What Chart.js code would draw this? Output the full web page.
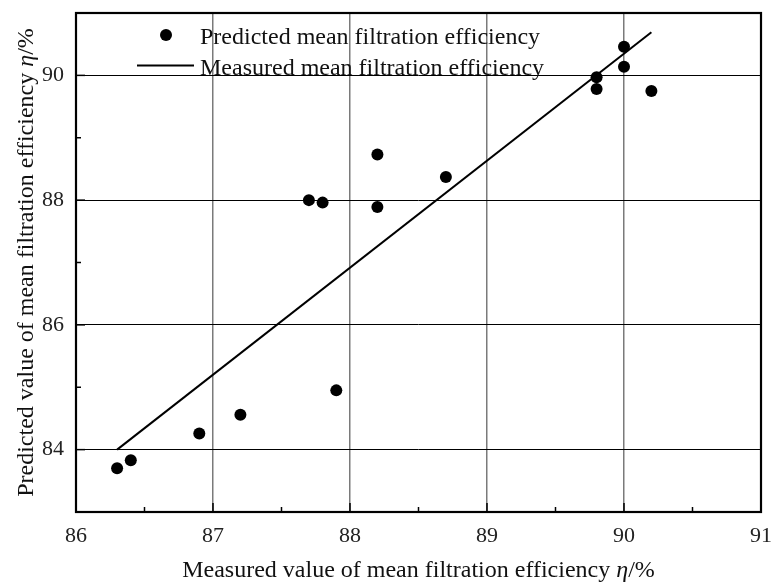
<!DOCTYPE html>
<html>
<head>
<meta charset="utf-8">
<script src="https://cdn.jsdelivr.net/npm/chart.js@4"></script>
<style>
  body { margin: 0; background: #fff; }
  canvas { display: block; }
</style>
</head>
<body>
<canvas id="chart" width="772" height="584"></canvas>
<script>
// measured vs predicted mean filtration efficiency (%)
const measured = [86.3, 86.4, 86.9, 87.2, 87.7, 87.8, 87.9, 88.2, 88.2, 88.7, 89.8, 89.8, 90.0, 90.0, 90.2];
const predicted = [83.70, 83.83, 84.26, 84.56, 88.00, 87.96, 84.95, 88.73, 87.89, 88.37, 89.97, 89.78, 90.46, 90.14, 89.75];
// fitted line end points
const fitX = [86.3, 90.2];
const fitY = [84.0, 90.69];

const xTicks = [86, 87, 88, 89, 90, 91];
const yTicks = [84, 86, 88, 90];

const serif = "'Liberation Serif', 'Times New Roman', serif";

const points = measured.map((v, i) => ({ x: v, y: predicted[i] }));
const fitLine = fitX.map((v, i) => ({ x: v, y: fitY[i] }));

// frame, inward ticks, legend and axis titles
const decor = {
  id: "decor",
  afterDraw(chart) {
    const ctx = chart.ctx;
    const area = chart.chartArea;
    const xs = chart.scales.x;
    const ys = chart.scales.y;
    ctx.save();

    // ticks (inside)
    ctx.strokeStyle = "#000";
    ctx.lineWidth = 1.5;
    for (let v = xs.min; v <= xs.max + 0.001; v += 0.5) {
      const px = xs.getPixelForValue(v);
      const len = Number.isInteger(v) ? 9 : 5;
      ctx.beginPath();
      ctx.moveTo(px, area.bottom);
      ctx.lineTo(px, area.bottom - len);
      ctx.stroke();
    }
    for (let v = ys.min; v <= ys.max; v += 1) {
      const py = ys.getPixelForValue(v);
      const len = v % 2 === 0 ? 9 : 5;
      ctx.beginPath();
      ctx.moveTo(area.left, py);
      ctx.lineTo(area.left + len, py);
      ctx.stroke();
    }

    // frame
    ctx.lineWidth = 2.2;
    ctx.strokeRect(area.left, area.top, area.right - area.left, area.bottom - area.top);

    // legend
    const ds = chart.data.datasets;
    ctx.fillStyle = "#000";
    ctx.beginPath();
    ctx.arc(area.left + 90, area.top + 22, 6, 0, Math.PI * 2);
    ctx.fill();
    ctx.lineWidth = 2;
    ctx.beginPath();
    ctx.moveTo(area.left + 61, area.top + 52.5);
    ctx.lineTo(area.left + 118, area.top + 52.5);
    ctx.stroke();
    ctx.font = "24px " + serif;
    ctx.fillStyle = "#111";
    ctx.textAlign = "left";
    ctx.textBaseline = "alphabetic";
    ctx.fillText(ds[0].label, area.left + 124, area.top + 30.5);
    ctx.fillText(ds[1].label, area.left + 124, area.top + 61.5);

    // axis titles with italic eta
    const drawTitle = (parts, cx, cy) => {
      let total = 0;
      parts.forEach((p) => {
        ctx.font = (p.italic ? "italic " : "") + "24px " + serif;
        p.w = ctx.measureText(p.t).width;
        total += p.w;
      });
      let x = cx - total / 2;
      parts.forEach((p) => {
        ctx.font = (p.italic ? "italic " : "") + "24px " + serif;
        ctx.fillText(p.t, x, cy);
        x += p.w;
      });
    };
    const cx = (area.left + area.right) / 2;
    drawTitle(
      [{ t: "Measured value of mean filtration efficiency " }, { t: "η", italic: true }, { t: "/%" }],
      cx, 577
    );
    ctx.translate(33, (area.top + area.bottom) / 2);
    ctx.rotate(-Math.PI / 2);
    drawTitle(
      [{ t: "Predicted value of mean filtration efficiency " }, { t: "η", italic: true }, { t: "/%" }],
      0, 0
    );
    ctx.restore();
  },
};

// drop the extra room Chart.js keeps for overhanging tick labels
const noOverhang = (scale) => {
  scale.paddingTop = 0;
  scale.paddingBottom = 0;
  scale.paddingLeft = 0;
  scale.paddingRight = 0;
};

new Chart(document.getElementById("chart"), {
  type: "scatter",
  data: {
    datasets: [
      {
        label: "Predicted mean filtration efficiency",
        data: points,
        pointRadius: 6,
        pointHoverRadius: 6,
        backgroundColor: "#000",
        borderColor: "#000",
        borderWidth: 0,
      },
      {
        label: "Measured mean filtration efficiency",
        type: "line",
        data: fitLine,
        borderColor: "#000",
        borderWidth: 2,
        pointRadius: 0,
        fill: false,
        tension: 0,
      },
    ],
  },
  options: {
    responsive: false,
    animation: false,
    layout: { padding: { left: 0, right: 11, top: 13, bottom: 0 } },
    plugins: {
      legend: { display: false },
      tooltip: { enabled: false },
    },
    scales: {
      x: {
        type: "linear",
        min: 86,
        max: 91,
        afterBuildTicks: (scale) => {
          scale.ticks = xTicks.map((v) => ({ value: v }));
        },
        afterFit: (scale) => {
          scale.height = 72;
          noOverhang(scale);
        },
        ticks: {
          padding: 11,
          color: "#222",
          font: { family: serif, size: 22 },
          maxRotation: 0,
        },
        grid: {
          drawTicks: false,
          lineWidth: 1.5,
          color: (c) => (c.tick && c.tick.value > 86 && c.tick.value < 91 ? "#7a7a7a" : "rgba(0,0,0,0)"),
        },
        border: { display: false },
      },
      y: {
        type: "linear",
        min: 83,
        max: 91,
        afterBuildTicks: (scale) => {
          scale.ticks = yTicks.map((v) => ({ value: v }));
        },
        afterFit: (scale) => {
          scale.width = 76;
          noOverhang(scale);
        },
        ticks: {
          padding: 12,
          color: "#222",
          font: { family: serif, size: 22 },
        },
        grid: {
          drawTicks: false,
          lineWidth: 1,
          color: "#000",
        },
        border: { display: false },
      },
    },
  },
  plugins: [decor],
});
</script>
</body>
</html>
